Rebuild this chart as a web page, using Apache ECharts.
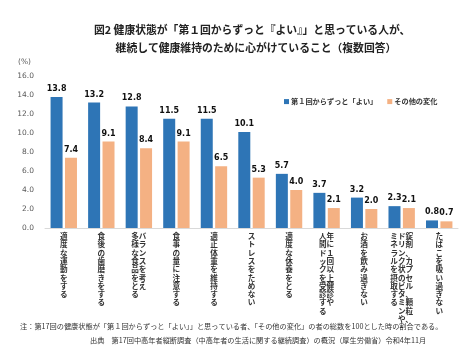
<!DOCTYPE html>
<html><head><meta charset="utf-8">
<script src="https://cdn.jsdelivr.net/npm/echarts@6/dist/echarts.min.js"></script>
<style>html,body{margin:0;padding:0;background:#fff}#c{width:474px;height:355px}</style>
</head><body><div id="c"></div>
<script>
const categories = [
  "適度な運動をする",
  "食後の歯磨きをする",
  "バランスを考え\n多様な食品をとる",
  "食事の量に注意する",
  "適正体重を維持する",
  "ストレスをためない",
  "適度な休養をとる",
  "年に１回以上健診や\n人間ドックを受診する",
  "お酒を飲み過ぎない",
  "錠剤、カプセル、顆粒、\nドリンク状のビタミンや\nミネラルを摂取する",
  "たばこを吸い過ぎない"
];
const seriesNames = ["第１回からずっと「よい」", "その他の変化"];
const alwaysGood = [13.8, 13.2, 12.8, 11.5, 11.5, 10.1, 5.7, 3.7, 3.2, 2.3, 0.8];
const otherChange = [7.4, 9.1, 8.4, 9.1, 6.5, 5.3, 4.0, 2.1, 2.0, 2.1, 0.7];
const yTicks = { min: 0, max: 16, interval: 2 };
const titleLines = ["図2 健康状態が「第１回からずっと『よい』」と思っている人が、", "　　継続して健康維持のために心がけていること（複数回答）"];
const noteText = "注：第17回の健康状態が「第１回からずっと「よい」」と思っている者、「その他の変化」の者の総数を100とした時の割合である。";
const sourceText = "出典　第17回中高年者縦断調査（中高年者の生活に関する継続調査）の概況（厚生労働省）令和4年11月";

function verticalize(v) {
  const cols = v.split('\n').map(s => Array.from(s));
  const n = Math.max(...cols.map(c => c.length));
  const lines = [];
  for (let i = 0; i < n; i++) {
    lines.push(cols.slice().reverse().map(c => c[i] || '　').join(''));
  }
  return lines.join('\n');
}

const chart = echarts.init(document.getElementById('c'), null, { renderer: 'canvas' });
const numFont = '"DejaVu Sans", Verdana, sans-serif';
const jpFont = '"Noto Sans CJK JP", sans-serif';
chart.setOption({
  animation: false,
  backgroundColor: '#fff',
  title: [
    { text: titleLines.join('\n'), left: 89, top: 16, textStyle: { fontFamily: jpFont, fontSize: 10.8, fontWeight: 'bold', color: '#222', lineHeight: 18 } },
    { text: noteText, left: 15, top: 318, textStyle: { fontFamily: jpFont, fontSize: 7.2, fontWeight: 'normal', color: '#333' } },
    { text: sourceText, left: 85, top: 332, textStyle: { fontFamily: jpFont, fontSize: 7.2, fontWeight: 'normal', color: '#333' } }
  ],
  legend: {
    data: seriesNames,
    left: 279, top: 93,
    icon: 'rect', itemWidth: 5, itemHeight: 5, itemGap: 10,
    textStyle: { fontFamily: jpFont, fontSize: 7.2, fontWeight: 'bold', color: '#333', padding: [0, 0, 0, -3] }
  },
  grid: { left: 45, right: 16, top: 76, bottom: 127 },
  xAxis: {
    type: 'category', data: categories,
    axisTick: { show: false },
    axisLine: { lineStyle: { color: '#d9d9d9' } },
    axisLabel: {
      interval: 0, margin: 4, formatter: verticalize,
      fontFamily: jpFont, fontSize: 7.6, fontWeight: 'bold', color: '#333', lineHeight: 8.3,
      verticalAlign: 'top'
    }
  },
  yAxis: {
    type: 'value', min: yTicks.min, max: yTicks.max, interval: yTicks.interval,
    name: '(%)', nameGap: 10,
    nameTextStyle: { fontFamily: numFont, fontSize: 7.5, color: '#595959', align: 'right', padding: [0, 14, 0, 0] },
    splitLine: { show: false },
    axisLine: { show: false }, axisTick: { show: false },
    axisLabel: { margin: 11, fontFamily: numFont, fontSize: 7.5, color: '#595959', formatter: v => v.toFixed(1) }
  },
  series: [
    { name: seriesNames[0], type: 'bar', data: alwaysGood, barWidth: 12, barGap: '20%',
      itemStyle: { color: '#2e75b6' },
      label: { show: true, position: 'top', distance: 4, fontFamily: numFont, fontSize: 8, fontWeight: 'bold', color: '#111', formatter: p => p.value.toFixed(1) } },
    { name: seriesNames[1], type: 'bar', data: otherChange, barWidth: 12,
      itemStyle: { color: '#f4b183' },
      label: { show: true, position: 'top', distance: 4, fontFamily: numFont, fontSize: 8, fontWeight: 'bold', color: '#111', formatter: p => p.value.toFixed(1) } }
  ]
});
</script></body></html>
